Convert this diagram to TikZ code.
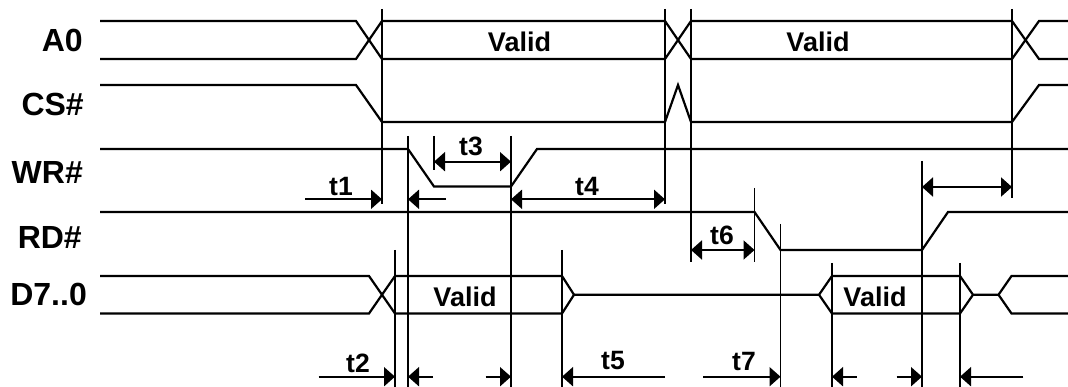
\documentclass[tikz,border=0pt]{standalone}
\usepackage{fontspec}
\setmainfont{Liberation Sans}
\usetikzlibrary{arrows.meta}
\tikzset{
  sig/.style={line width=2.2pt},
  refline/.style={line width=1.2pt},
  dimone/.style={line width=2pt,-{Triangle[length=11pt,width=19pt]}},
  dimtwo/.style={line width=2pt,{Triangle[length=11pt,width=19pt]}-{Triangle[length=11pt,width=19pt]}},
  siglabel/.style={font=\fontsize{32}{32}\selectfont\bfseries,anchor=east,inner sep=0pt},
  tlabel/.style={font=\fontsize{26.5}{26.5}\selectfont\bfseries,inner sep=0pt},
  vlabel/.style={font=\fontsize{27}{27}\selectfont\bfseries,inner sep=0pt},
}
\begin{document}
\begin{tikzpicture}[x=1pt,y=-1pt]
\useasboundingbox (0,0) rectangle (1068,387);

% signal names
\node[siglabel] (lA) at (83,40) {A0};
\node[siglabel] (lCS) at (84,104) {CS\#};
\node[siglabel] (lWR) at (83,172) {WR\#};
\node[siglabel] (lRD) at (82,237) {RD\#};
\node[siglabel] (lD) at (87,294) {D7..0};

% A0
\draw[sig] (100,21)--(356,21)--(382,59)--(665,59)--(691,21)--(1012,21)--(1039,59)--(1068,59);
\draw[sig] (100,59)--(356,59)--(382,21)--(665,21)--(691,59)--(1012,59)--(1039,21)--(1068,21);
\node[vlabel] (va1) at (519.5,42) {Valid};
\node[vlabel] (va2) at (818,42) {Valid};

% CS#
\draw[sig] (100,85)--(356,85)--(382,122)--(665,122)--(678,85)--(691,122)--(1012,122)--(1039,85)--(1068,85);

% WR#
\draw[sig] (100,149)--(408,149)--(434,186.5)--(511,186.5)--(537,149)--(1068,149);

% RD#
\draw[sig] (100,212)--(754.5,212)--(780.5,250)--(922,250)--(948,212)--(1068,212);

% D7..0
\draw[sig] (100,276)--(369,276)--(395,313.5)--(562,313.5)--(574,294.75)--(819,294.75)--(832,276)--(960,276)--(973,294.75)--(998.5,294.75)--(1011.5,276)--(1068,276);
\draw[sig] (100,313.5)--(369,313.5)--(395,276)--(562,276)--(574,294.75);
\draw[sig] (819,294.75)--(832,313.5)--(960,313.5)--(973,294.75);
\draw[sig] (998.5,294.75)--(1011.5,313.5)--(1068,313.5);
\node[vlabel] (vd1) at (465,297) {Valid};
\node[vlabel] (vd2) at (875,297) {Valid};

% reference lines
\draw[refline] (382,9)--(382,204);
\draw[refline] (408,136)--(408,387);
\draw[refline] (434,136)--(434,170);
\draw[refline] (511,136)--(511,387);
\draw[refline] (665,9)--(665,204);
\draw[refline] (691,9)--(691,262);
\draw[refline] (395,250)--(395,387);
\draw[refline] (562,250)--(562,387);
\draw[refline] (754.5,188)--(754.5,262);
\draw[refline] (780.5,224)--(780.5,387);
\draw[refline] (832,263)--(832,387);
\draw[refline] (922,161)--(922,387);
\draw[refline] (960,263)--(960,387);
\draw[refline] (1012,9)--(1012,198);

% dimension arrows
\draw[dimone] (305,199.3)--(382,199.3);
\draw[dimone] (446,199.3)--(408,199.3);
\draw[dimtwo] (434,161.7)--(511,161.7);
\draw[dimtwo] (511,199.3)--(665,199.3);
\draw[dimtwo] (922,187)--(1012,187);
\draw[dimtwo] (691,250)--(754.5,250);
\draw[dimone] (318.5,376.7)--(395,376.7);
\draw[dimone] (433,376.7)--(408,376.7);
\draw[dimone] (485.5,376.7)--(511,376.7);
\draw[dimone] (665,376.7)--(562,376.7);
\draw[dimone] (703.3,376.7)--(780.5,376.7);
\draw[dimone] (856.7,376.7)--(832,376.7);
\draw[dimone] (896.7,376.7)--(922,376.7);
\draw[dimone] (1023.3,376.7)--(960,376.7);

% timing labels
\node[tlabel] (t1) at (341,187) {t1};
\node[tlabel] (t3) at (471,146) {t3};
\node[tlabel] (t4) at (587,187) {t4};
\node[tlabel] (t6) at (722,235) {t6};
\node[tlabel] (t2) at (358,363) {t2};
\node[tlabel] (t5) at (613,361) {t5};
\node[tlabel] (t7) at (744,361) {t7};
\end{tikzpicture}
\end{document}
